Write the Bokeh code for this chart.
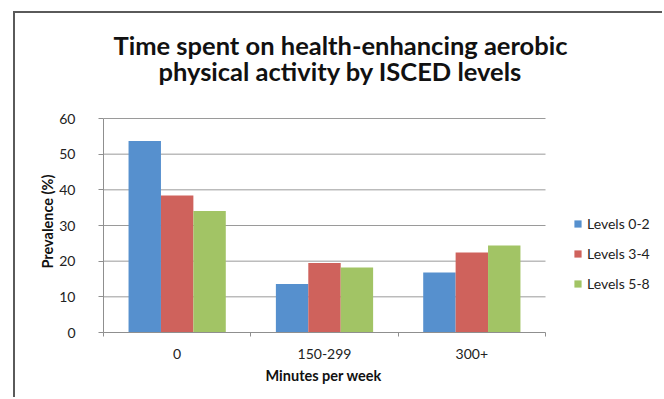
import numpy as np
from bokeh.plotting import figure
from bokeh.models import (ColumnDataSource, FixedTicker, Range1d, Legend, LegendItem,
                          Label, Title)
from bokeh.embed import file_html
from bokeh.resources import INLINE

# Data: prevalence (%) of weekly aerobic activity by ISCED level group
categories = ["0", "150-299", "300+"]
series_names = ["Levels 0-2", "Levels 3-4", "Levels 5-8"]
levels_0_2 = [53.7, 13.6, 16.8]
levels_3_4 = [38.4, 19.5, 22.4]
levels_5_8 = [34.1, 18.2, 24.4]
y_ticks = [0, 10, 20, 30, 40, 50, 60]
title_lines = ["Time spent on health-enhancing aerobic",
               "physical activity by ISCED levels"]
x_title = "Minutes per week"
y_title = "Prevalence (%)"

colors = ["#5690CE", "#CF625C", "#A2C465"]
FONT = "Lato"
GRID = "#9a9a9a"
AXIS = "#8f8f8f"

# canvas size inside the outer chart border
W, H = 649, 386
LEFT, RIGHT, TOP, BOTTOM = 88, 4, 10, 67
PLOT_W, PLOT_H = 442, 214          # pixel extent of the bar area (3 groups, 0..60)
n = len(categories)
y_max = y_ticks[-1]
x_end = (W - LEFT - RIGHT) / (PLOT_W / n)
y_end = (H - TOP - BOTTOM) / (PLOT_H / y_max)

p = figure(width=W, height=H, output_backend="svg", toolbar_location=None,
           x_range=Range1d(0, x_end), y_range=Range1d(0, y_end),
           min_border_left=LEFT, min_border_right=RIGHT,
           min_border_top=TOP, min_border_bottom=BOTTOM,
           styles={"margin-left": "13px", "margin-top": "11px",
                   "border-left": "2px solid #5a5a5a",
                   "border-top": "2px solid #5a5a5a"})
p.outline_line_color = None
p.background_fill_color = "white"
p.border_fill_color = "white"
p.xgrid.grid_line_color = None
p.ygrid.grid_line_color = None

# horizontal gridlines across the bar area only
grid_y = [t for t in y_ticks if t > 0]
p.segment(x0=[0] * len(grid_y), x1=[n] * len(grid_y), y0=grid_y, y1=grid_y,
          line_color=GRID, line_width=1)

centers = np.arange(n) + 0.5
bar_w = 0.22
offsets = [-bar_w, 0.0, bar_w]
all_series = [levels_0_2, levels_3_4, levels_5_8]

renderers = []
for vals, off, col in zip(all_series, offsets, colors):
    src = ColumnDataSource(dict(x=centers + off, top=vals))
    r = p.vbar(x="x", top="top", width=bar_w, bottom=0, source=src,
               fill_color=col, line_color=None)
    renderers.append(r)

# x axis: labels at category centres, ticks on the category boundaries
p.xaxis.bounds = (0, n)
p.xaxis.ticker = FixedTicker(ticks=list(centers), minor_ticks=list(range(n + 1)))
p.xaxis.major_label_overrides = {float(c): lab for c, lab in zip(centers, categories)}
p.xaxis.major_tick_line_color = None
p.xaxis.major_tick_out = 0
p.xaxis.major_tick_in = 0
p.xaxis.minor_tick_line_color = AXIS
p.xaxis.minor_tick_out = 4
p.xaxis.minor_tick_in = 0
p.xaxis.axis_line_color = AXIS
p.xaxis.major_label_standoff = 12

p.yaxis.bounds = (0, y_max)
p.yaxis.ticker = FixedTicker(ticks=y_ticks)
p.yaxis.minor_tick_line_color = None
p.yaxis.major_tick_line_color = AXIS
p.yaxis.major_tick_out = 5
p.yaxis.major_tick_in = 0
p.yaxis.axis_line_color = AXIS
p.yaxis.major_label_standoff = 23

for ax in (p.xaxis, p.yaxis):
    ax.major_label_text_font = FONT
    ax.major_label_text_font_size = "14px"
    ax.major_label_text_color = "#222222"

# axis titles, centred on the bar area rather than the whole frame
p.add_layout(Title(text=x_title, align="left", offset=162, standoff=10,
                   vertical_align="top", text_font=FONT, text_font_size="14.5px",
                   text_font_style="bold", text_color="#111111"), "below")
p.add_layout(Title(text=y_title, align="left", offset=64, standoff=2,
                   text_font=FONT, text_font_size="14.5px",
                   text_font_style="bold", text_color="#111111"), "left")

legend = Legend(items=[LegendItem(label=s, renderers=[r]) for s, r in zip(series_names, renderers)],
                location=(470, 39), orientation="vertical",
                glyph_width=9, glyph_height=9, label_height=20, spacing=10,
                label_standoff=5, padding=0, margin=0,
                border_line_color=None, background_fill_alpha=0,
                label_text_font=FONT, label_text_font_size="14px",
                label_text_color="#222222")
p.add_layout(legend, "center")

# Two-line chart title
for txt, yb in zip(title_lines, [29, 55]):
    p.add_layout(Label(x=323, y=yb, x_units="canvas", y_units="canvas", text=txt,
                       text_align="center", text_baseline="alphabetic",
                       text_font=FONT, text_font_size="25.5px",
                       text_font_style="bold", text_color="#111111"))

open("out.html", "w").write(file_html(p, INLINE))
